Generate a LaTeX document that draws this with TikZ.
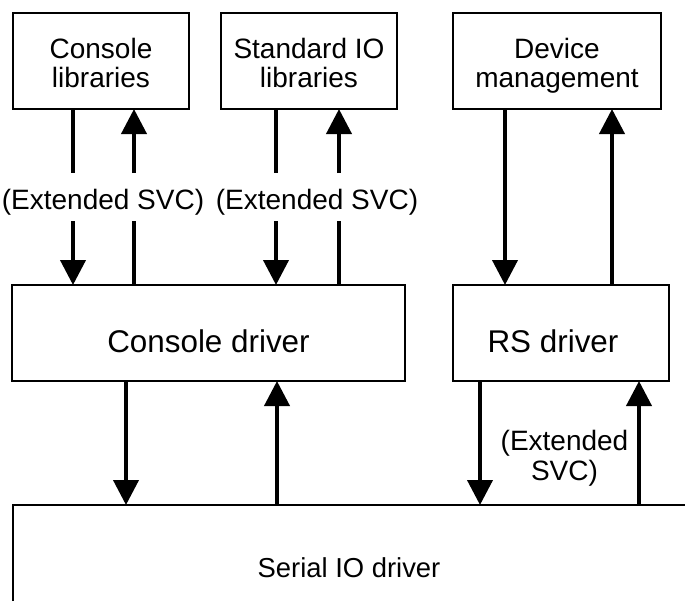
\documentclass[tikz,border=0pt]{standalone}
\usepackage{fontspec}
\setmainfont{Liberation Sans}
\usetikzlibrary{arrows.meta}
\begin{document}
\begin{tikzpicture}[x=0.5pt,y=-0.5pt,
  box/.style={draw,line width=0.8pt,inner sep=0pt,outer sep=0pt,align=center,
    minimum height=48pt,text height=26pt,text depth=0pt,font=\fontsize{14}{14.5}\selectfont},
  drv/.style={draw,line width=0.8pt,inner sep=0pt,outer sep=0pt,
    minimum height=48pt,text height=19pt,text depth=0pt,font=\fontsize{15.7}{17}\selectfont},
  ext/.style={inner sep=0pt,outer sep=0pt,minimum height=24pt,text height=12pt,text depth=0pt,
    font=\fontsize{14}{15}\selectfont},
  shaft/.style={line width=2pt},
  arr/.style={line width=2pt,-{Triangle[width=12.5pt,length=12.5pt]}}]
\useasboundingbox (0,0) rectangle (685,601);
% column positions
\coordinate (a1) at (73,0);
\coordinate (a2) at (134,0);
\coordinate (a3) at (276,0);
\coordinate (a4) at (339,0);
\coordinate (a5) at (505,0);
\coordinate (a6) at (612,0);
\coordinate (b1) at (126,0);
\coordinate (b2) at (277,0);
\coordinate (b3) at (480,0);
\coordinate (b4) at (639,0);
% boxes
\node[box,minimum width=88pt] (cl) at (101,61) {Console\\libraries};
\node[box,minimum width=88pt] (sl) at (309,61) {Standard IO\\libraries};
\node[box,minimum width=104pt] (dm) at (557,61) {Device\\management};
\node[drv,minimum width=196.5pt] (cd) at (208.5,333) {Console driver};
\node[drv,minimum width=108pt] (rs) at (561,333) {RS driver\hspace*{8pt}};
% serial IO driver (open box)
\node[inner sep=0pt,outer sep=0pt,minimum width=336pt,minimum height=48pt,
  text height=24pt,text depth=0pt,font=\fontsize{13.7}{15}\selectfont] (ser) at (349,553) {Serial IO driver};
\draw[line width=1.3pt] (ser.south west) -- (ser.north west) -- (ser.north east);
% labels
\node[ext] (e1) at (103,197) {(Extended SVC)};
\node[ext] (e2) at (317,197) {(Extended SVC)};
\node[inner sep=0pt,align=center,font=\fontsize{14}{15}\selectfont] (e3) at (564.5,458) {(Extended\\SVC)};
% console libraries <-> console driver
\draw[shaft] (cl.south -| a1) -- (e1.north -| a1);
\draw[arr] (e1.south -| a1) -- (cd.north -| a1);
\draw[shaft] (cd.north -| a2) -- (e1.south -| a2);
\draw[arr] (e1.north -| a2) -- (cl.south -| a2);
% standard IO libraries <-> console driver
\draw[shaft] (sl.south -| a3) -- (e2.north -| a3);
\draw[arr] (e2.south -| a3) -- (cd.north -| a3);
\draw[shaft] (cd.north -| a4) -- (e2.south -| a4);
\draw[arr] (e2.north -| a4) -- (sl.south -| a4);
% device management <-> RS driver
\draw[arr] (dm.south -| a5) -- (rs.north -| a5);
\draw[arr] (rs.north -| a6) -- (dm.south -| a6);
% drivers <-> serial IO driver
\draw[arr] (cd.south -| b1) -- (ser.north -| b1);
\draw[arr] (ser.north -| b2) -- (cd.south -| b2);
\draw[arr] (rs.south -| b3) -- (ser.north -| b3);
\draw[arr] (ser.north -| b4) -- (rs.south -| b4);
\end{tikzpicture}
\end{document}
